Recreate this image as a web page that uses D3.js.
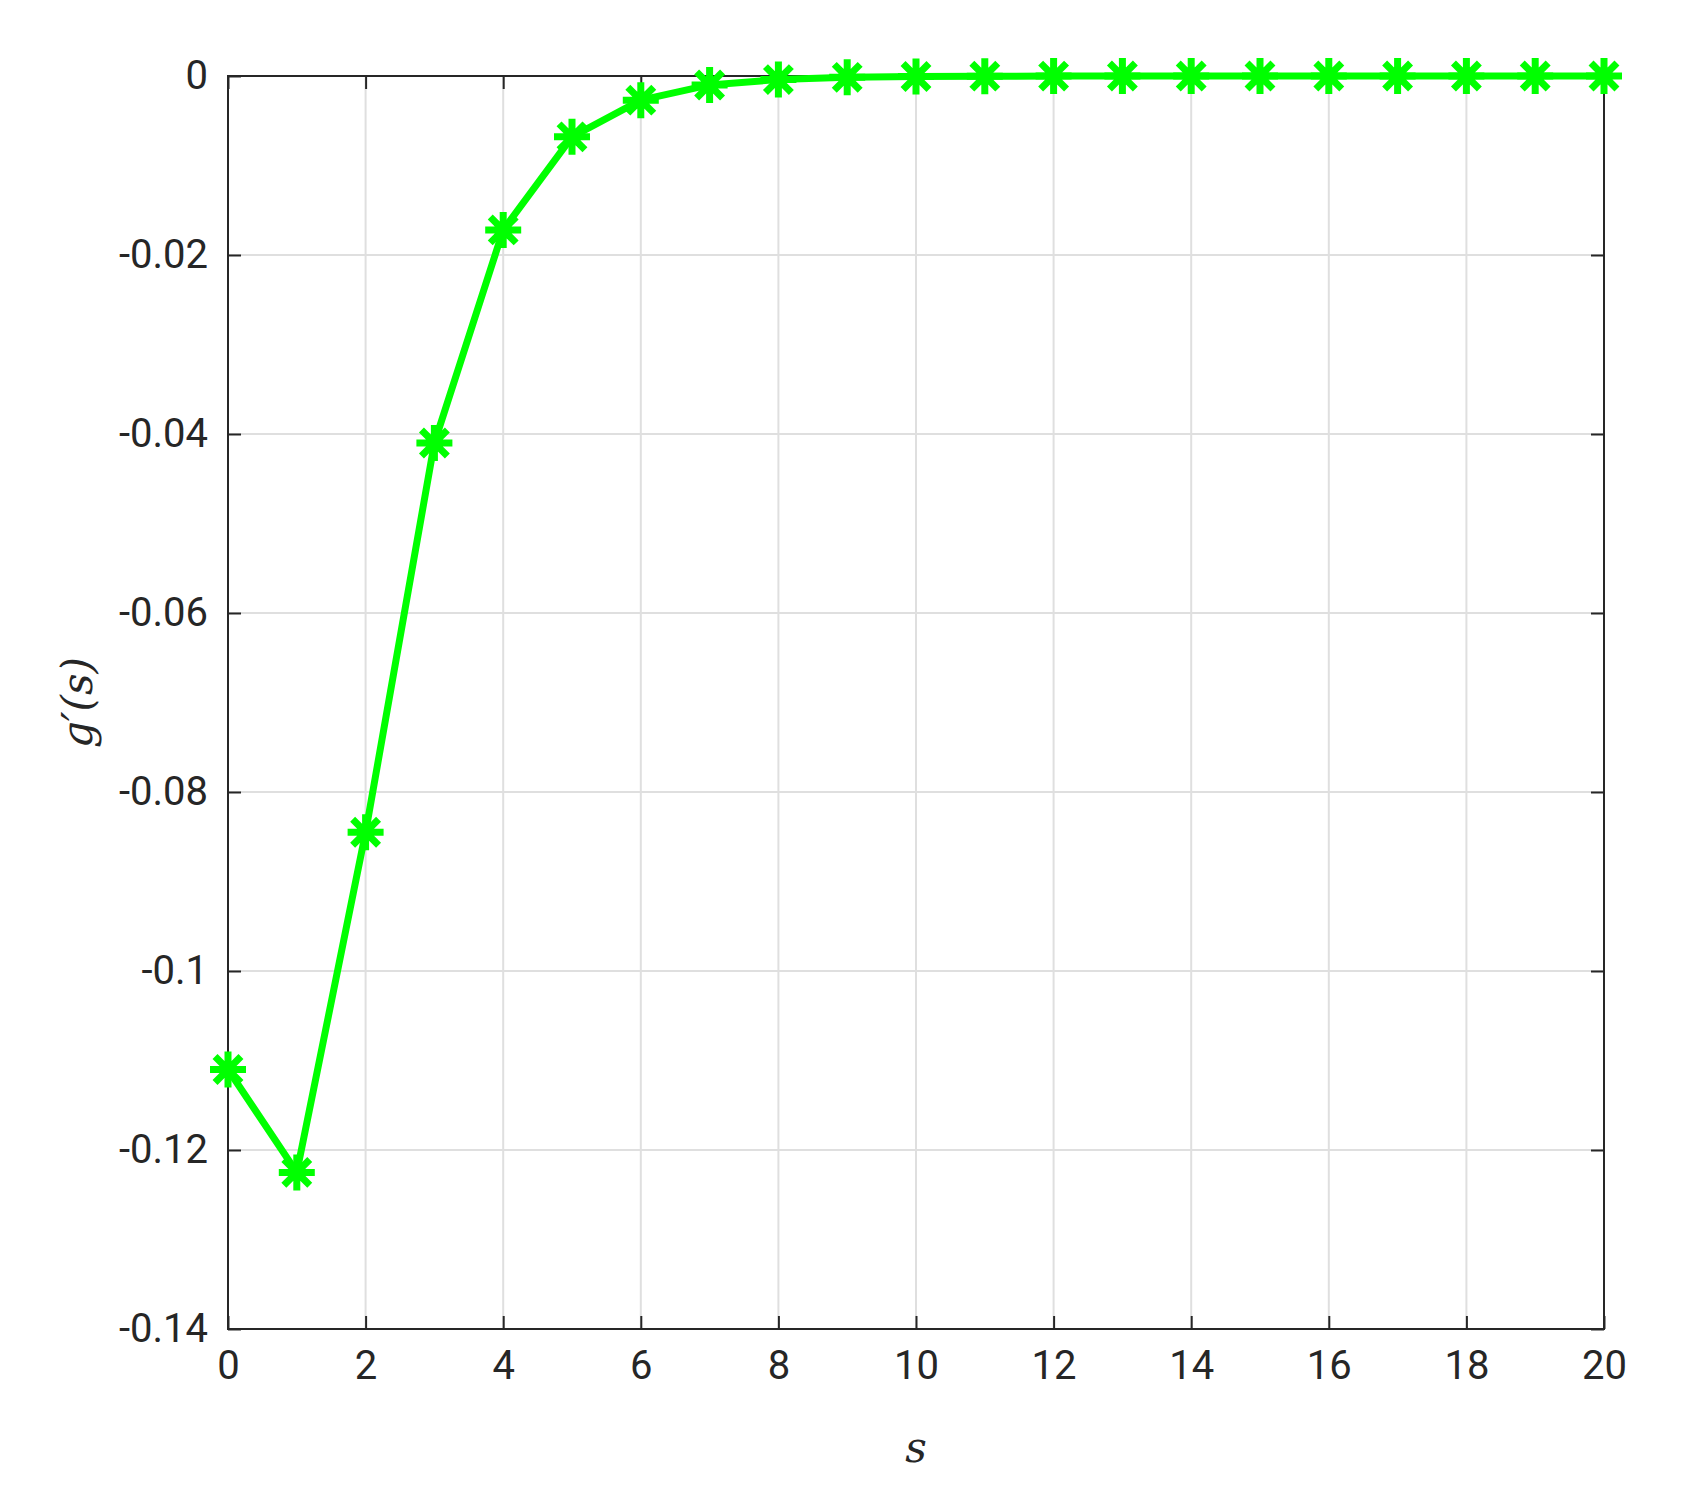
<!DOCTYPE html>
<html><head><meta charset="utf-8">
<script src="https://cdn.jsdelivr.net/npm/d3@7"></script>
<style>body{margin:0;background:#fff}svg{display:block}</style>
</head><body>
<svg id="chart" width="1688" height="1512"></svg>
<script>
const sValues = d3.range(0, 21);
const gPrime = [-0.111, -0.1225, -0.0845, -0.041, -0.0172, -0.0068, -0.0027, -0.0010,
  -0.0004, -0.00015, -0.00006, -0.00002, -0.00001, 0, 0, 0, 0, 0, 0, 0, 0];
const xTicks = d3.range(0, 21, 2);
const yTicks = [0, -0.02, -0.04, -0.06, -0.08, -0.1, -0.12, -0.14];

const margin = {top: 76, right: 84, bottom: 183, left: 228};
const width = 1688 - margin.left - margin.right;
const height = 1512 - margin.top - margin.bottom;
const font = "'Liberation Sans Narrow', Roboto, sans-serif";
const axisColor = '#262626';

const svg = d3.select('#chart');
const g = svg.append('g').attr('transform', `translate(${margin.left},${margin.top})`);

const x = d3.scaleLinear().domain([0, 20]).range([0, width]);
const y = d3.scaleLinear().domain([-0.14, 0]).range([height, 0]);

// grid
g.append('g').selectAll('line').data(xTicks).join('line')
  .attr('x1', d => x(d)).attr('x2', d => x(d)).attr('y1', 0).attr('y2', height)
  .attr('stroke', '#dfdfdf').attr('stroke-width', 2);
g.append('g').selectAll('line').data(yTicks).join('line')
  .attr('y1', d => y(d)).attr('y2', d => y(d)).attr('x1', 0).attr('x2', width)
  .attr('stroke', '#dfdfdf').attr('stroke-width', 2);

const fmt = d => d === 0 ? '0' : String(d);
const styleAxis = sel => {
  sel.selectAll('path').remove();
  sel.selectAll('line').attr('stroke', axisColor).attr('stroke-width', 2);
  sel.selectAll('text').attr('fill', axisColor).style('font-family', font).style('font-size', '40px');
};

g.append('g').attr('transform', `translate(0,${height})`)
  .call(d3.axisBottom(x).tickValues(xTicks).tickFormat(fmt).tickSizeInner(-13).tickSizeOuter(0).tickPadding(22))
  .call(styleAxis);
g.append('g')
  .call(d3.axisTop(x).tickValues(xTicks).tickFormat('').tickSizeInner(-13).tickSizeOuter(0))
  .call(styleAxis);
g.append('g')
  .call(d3.axisLeft(y).tickValues(yTicks).tickFormat(fmt).tickSizeInner(-13).tickSizeOuter(0).tickPadding(20))
  .call(styleAxis);
g.append('g').attr('transform', `translate(${width},0)`)
  .call(d3.axisRight(y).tickValues(yTicks).tickFormat('').tickSizeInner(-13).tickSizeOuter(0))
  .call(styleAxis);

g.append('rect').attr('width', width).attr('height', height)
  .attr('fill', 'none').attr('stroke', axisColor).attr('stroke-width', 2);

// line
const pts = sValues.map((s, i) => ({s, v: gPrime[i]}));
g.append('path').datum(pts)
  .attr('fill', 'none').attr('stroke', '#00ff00').attr('stroke-width', 7)
  .attr('stroke-linejoin', 'round')
  .attr('d', d3.line().x(d => x(d.s)).y(d => y(d.v)));

// asterisk markers
const r = 18;
const star = `M${-r},0L${r},0M0,${-r}L0,${r}M${-r*0.72},${-r*0.72}L${r*0.72},${r*0.72}M${-r*0.72},${r*0.72}L${r*0.72},${-r*0.72}`;
g.append('g').selectAll('path').data(pts).join('path')
  .attr('transform', d => `translate(${x(d.s)},${y(d.v)})`)
  .attr('d', star).attr('stroke', '#00ff00').attr('stroke-width', 7).attr('fill', 'none');

// labels
svg.append('text').attr('x', margin.left + width / 2).attr('y', 1462)
  .attr('text-anchor', 'middle').attr('fill', axisColor)
  .style('font-family', "'DejaVu Serif', serif").style('font-style', 'italic').style('font-size', '42px')
  .text('s');
svg.append('text').attr('transform', `translate(92,${margin.top + height / 2}) rotate(-90)`)
  .attr('text-anchor', 'middle').attr('fill', axisColor)
  .style('font-family', "'DejaVu Serif', serif").style('font-style', 'italic').style('font-size', '42px')
  .text("g′(s)");
</script>
</body></html>
